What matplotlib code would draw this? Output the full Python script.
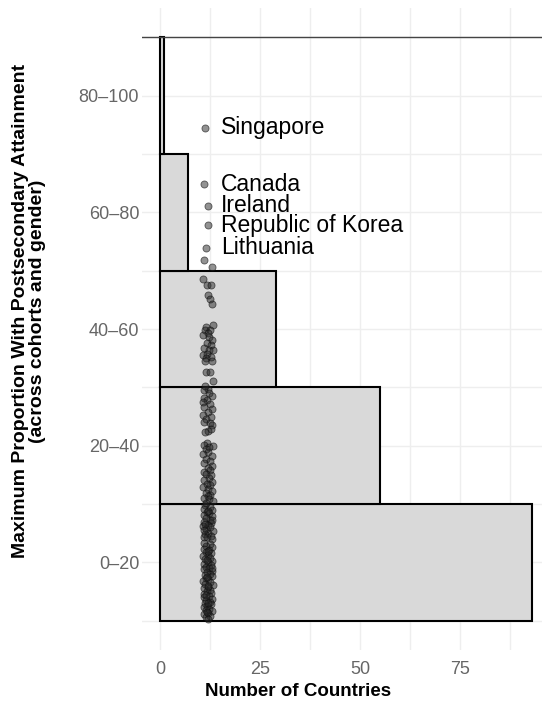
import numpy as np
import matplotlib
matplotlib.use("Agg")
import matplotlib.pyplot as plt

plt.rcParams['font.family'] = ['Liberation Sans', 'DejaVu Sans']

# histogram of the maximum proportion (bins of 20 points)
bin_labels = ["0\u201320", "20\u201340", "40\u201360", "60\u201380", "80\u2013100"]
bin_edges = [0, 20, 40, 60, 80, 100]
bin_counts = [93, 55, 29, 7, 1]

# jittered countries: (x jitter, value)
pts_0_20_y = [19.8, 19.5, 19.2, 19.0, 18.7, 18.4, 18.1, 17.9, 17.6, 17.3, 17.0, 16.8, 16.5, 16.2, 16.0,
              15.7, 15.4, 15.1, 14.9, 14.6, 14.3, 14.1, 13.3, 13.1, 12.8, 12.6, 12.3, 12.1, 11.8, 11.6,
              11.3, 11.1, 10.8, 10.6, 10.3, 10.1, 9.8, 9.6, 9.3, 9.1, 8.8, 8.6, 8.3, 8.1, 7.8, 7.6, 7.3,
              7.1, 6.8, 6.6, 6.3, 6.1, 5.8, 5.6, 5.3, 5.1, 4.8, 4.6, 4.3, 4.1, 3.8, 3.6, 3.3, 3.1, 2.8,
              2.6, 2.3, 2.1, 1.8, 1.6, 1.3, 1.1, 0.8, 0.6, 0.3, 18.9, 17.2, 15.5, 12.0, 10.4, 9.0, 7.5,
              6.0, 4.5, 3.0, 1.5, 16.6, 14.4]
pts_0_20_x = [11.3, 12.6, 11.0, 12.9, 11.8, 12.3, 10.9, 13.1, 11.5, 12.4, 11.1, 12.8, 11.9, 10.8, 12.5,
              11.4, 13.2, 12.0, 11.2, 12.7, 11.7, 12.9, 11.1, 12.4, 11.6, 13.0, 10.9, 12.2, 11.4, 12.8,
              11.9, 10.8, 12.5, 11.3, 13.1, 12.0, 11.0, 12.7, 11.6, 12.3, 10.9, 13.0, 11.8, 12.4, 11.2,
              12.9, 11.5, 12.1, 10.8, 12.6, 11.3, 13.2, 11.9, 11.0, 12.5, 11.7, 12.8, 11.1, 12.2, 10.9,
              13.0, 11.6, 12.4, 11.2, 12.7, 11.8, 10.9, 12.3, 11.4, 13.1, 12.0, 11.1, 12.6, 11.5, 11.9,
              11.9, 13.0, 11.0, 11.9, 11.7, 12.9, 11.8, 12.0, 11.4, 12.1, 11.8, 11.3, 10.9]

pts_20_40_y = [39.8, 39.5, 39.0, 38.6, 38.2, 37.8, 37.5, 37.2, 36.7, 36.3, 35.8, 35.2, 35.0, 34.6, 34.0,
               33.9, 33.5, 32.8, 32.5, 32.4, 30.4, 30.2, 29.9, 29.7, 29.4, 28.9, 28.6, 28.2, 27.8, 27.4,
               27.0, 26.6, 26.2, 25.9, 25.5, 25.2, 24.9, 24.5, 24.2, 23.8, 23.5, 23.2, 22.9, 22.6, 22.3,
               21.9, 21.6, 21.4, 21.0, 20.8, 20.5, 20.2]
pts_20_40_x = [12.0, 11.0, 12.3, 13.1, 10.9, 11.8, 10.8, 12.5, 11.1, 13.0, 12.0, 10.8, 12.8, 11.6, 10.9,
               12.4, 13.1, 12.7, 12.0, 11.2, 11.8, 10.9, 13.2, 12.3, 11.4, 12.1, 10.8, 12.9, 11.6, 12.4,
               11.0, 13.0, 11.9, 12.6, 10.9, 11.5, 12.8, 12.2, 11.1, 13.1, 11.7, 12.4, 10.8, 12.0, 13.0,
               11.4, 12.6, 11.9, 10.9, 12.3, 13.2, 11.5]

pts_40_60_y = [58.5, 57.6, 57.5, 55.9, 55.2, 54.2, 50.6, 50.3, 49.8, 49.8, 49.3, 49.0, 48.6, 48.1, 47.6,
               47.2, 46.7, 46.4, 46.4, 45.8, 45.5, 45.2, 45.0, 44.6, 44.6, 42.7, 42.7, 41.1, 40.3]
pts_40_60_x = [10.8, 11.8, 12.8, 11.9, 12.4, 12.9, 13.2, 11.6, 11.2, 12.5, 12.1, 10.8, 12.2, 13.0, 11.8,
               12.8, 11.0, 12.3, 13.3, 11.8, 10.8, 12.7, 11.5, 11.2, 13.0, 11.6, 12.5, 13.3, 11.3]

pts_60_80_y = [61.8, 60.7]
pts_60_80_x = [11.0, 12.9]

# labelled countries
label_names = ["Singapore", "Canada", "Ireland", "Republic of Korea", "Lithuania"]
label_y = [84.5, 74.8, 71.1, 67.8, 63.9]
label_x = [11.3, 11.1, 12.0, 12.0, 11.5]
label_text_x = 15.2

W, H = 542, 706
fig = plt.figure(figsize=(W / 100, H / 100), dpi=100)
ax = fig.add_axes([142 / W, 56 / H, 1 - 142 / W, (650 - 8) / H])

ax.set_xlim(-4.5, 95.5)
ax.set_ylim(-5, 105)

grid_col = "#EEEEEE"
for gx in [0, 12.5, 25, 37.5, 50, 62.5, 75, 87.5]:
    ax.axvline(gx, color=grid_col, lw=1.0, zorder=0)
for gy in range(0, 101, 10):
    ax.axhline(gy, color=grid_col, lw=1.0, zorder=0)

centers = [(bin_edges[i] + bin_edges[i + 1]) / 2 for i in range(len(bin_counts))]
ax.barh(centers, bin_counts, height=20, left=0, color="#D9D9D9",
        edgecolor="black", linewidth=1.5, zorder=2)

ax.axhline(100, color="#444444", lw=1.0, zorder=3)

all_x = pts_0_20_x + pts_20_40_x + pts_40_60_x + pts_60_80_x + label_x
all_y = pts_0_20_y + pts_20_40_y + pts_40_60_y + pts_60_80_y + label_y
ax.scatter(all_x, all_y, s=26, facecolor=(0.15, 0.15, 0.15, 0.5),
           edgecolor=(0.05, 0.05, 0.05, 0.6), linewidth=0.6, zorder=4)

for name, yv in zip(label_names, label_y):
    ax.text(label_text_x, yv, name, fontsize=16.5, color="black",
            ha="left", va="center", zorder=5)

ax.set_yticks(centers)
ax.set_yticklabels(bin_labels)
ax.set_xticks([0, 25, 50, 75])
ax.tick_params(axis="y", length=0, labelsize=13, labelcolor="#666666", pad=2)
ax.tick_params(axis="x", length=0, labelsize=13, labelcolor="#666666", pad=8)
for s in ax.spines.values():
    s.set_visible(False)

fig.text(298 / W, 1 - 692 / H, "Number of Countries", fontsize=13.5, fontweight="bold",
         ha="center", va="center")
fig.text(29 / W, 1 - 311 / H,
         "Maximum Proportion With Postsecondary Attainment\n(across cohorts and gender)",
         fontsize=14, fontweight="bold", rotation=90, ha="center", va="center",
         multialignment="center", linespacing=1.05)

fig.savefig("out.png", dpi=100)
